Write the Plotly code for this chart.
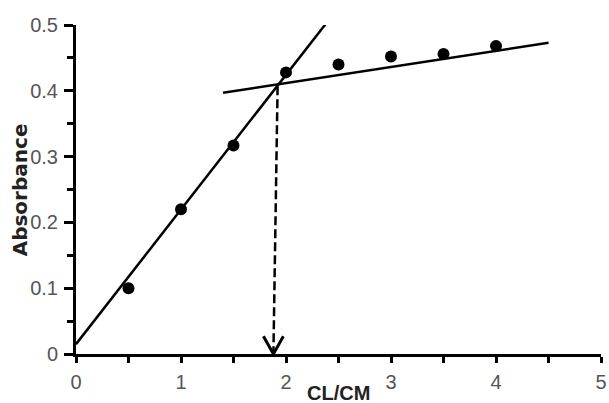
import plotly.graph_objects as go

# Data
ratio = [0.5, 1.0, 1.5, 2.0, 2.5, 3.0, 3.5, 4.0]
absorbance = [0.100, 0.220, 0.317, 0.428, 0.440, 0.452, 0.456, 0.468]

# Fitted straight lines (end points)
fit1_x = [0.0, 2.38]
fit1_y = [0.015, 0.502]
fit2_x = [1.40, 4.50]
fit2_y = [0.397, 0.473]

# Dashed drop line to the equivalence point
drop_x = [1.92, 1.88]
drop_y = [0.407, 0.0]
# Arrow head (open V)
head_x = [1.785, 1.88, 1.975]
head_y = [0.027, 0.0, 0.027]

x_ticks = [0, 1, 2, 3, 4, 5]
y_ticks = [0, 0.1, 0.2, 0.3, 0.4, 0.5]
y_ticktext = ["0", "0.1", "0.2", "0.3", "0.4", "0.5"]

FONT = "Arial, Liberation Sans, sans-serif"

fig = go.Figure()
fig.add_trace(go.Scatter(x=fit1_x, y=fit1_y, mode="lines",
                         line=dict(color="black", width=2.5), showlegend=False))
fig.add_trace(go.Scatter(x=fit2_x, y=fit2_y, mode="lines",
                         line=dict(color="black", width=2.5), showlegend=False))
fig.add_trace(go.Scatter(x=drop_x, y=drop_y, mode="lines",
                         line=dict(color="black", width=2.5, dash="9px,4px"), showlegend=False))
fig.add_trace(go.Scatter(x=head_x, y=head_y, mode="lines",
                         line=dict(color="black", width=3), showlegend=False))
fig.add_trace(go.Scatter(x=ratio, y=absorbance, mode="markers",
                         marker=dict(color="black", size=12), showlegend=False))

axis_common = dict(
    showgrid=False, zeroline=False, showline=True, linecolor="black", linewidth=3,
    ticks="outside", tickcolor="black", tickwidth=3, automargin=False,
    tickfont=dict(family=FONT, size=20, color="#555555"),
    minor=dict(ticks="outside", ticklen=6, tickwidth=3, tickcolor="black"),
)

fig.update_layout(
    width=609, height=403,
    margin=dict(l=76, r=8, t=25, b=49, autoexpand=False),
    paper_bgcolor="white", plot_bgcolor="white",
    xaxis=dict(range=[0, 5], tickvals=x_ticks, ticklen=6, minor_dtick=0.5,
               ticklabelstandoff=2, **axis_common),
    yaxis=dict(range=[0, 0.5], tickvals=y_ticks, ticktext=y_ticktext, ticklen=9,
               minor_dtick=0.05, ticklabelstandoff=2, **axis_common),
    annotations=[
        dict(text="<b>CL/CM</b>", xref="paper", yref="paper", x=0.5, y=-0.118,
             xanchor="center", yanchor="middle", showarrow=False,
             font=dict(family=FONT, size=20, color="#222222")),
        dict(text="<b>Absorbance</b>", xref="paper", yref="paper", x=-0.107, y=0.5,
             xanchor="center", yanchor="middle", showarrow=False, textangle=-90,
             font=dict(family="DejaVu Sans, sans-serif", size=20, color="#222222")),
    ],
)

fig.write_html("out.html", config={"displayModeBar": False},
               post_script="document.body.style.margin='0';document.body.style.overflow='hidden';")
